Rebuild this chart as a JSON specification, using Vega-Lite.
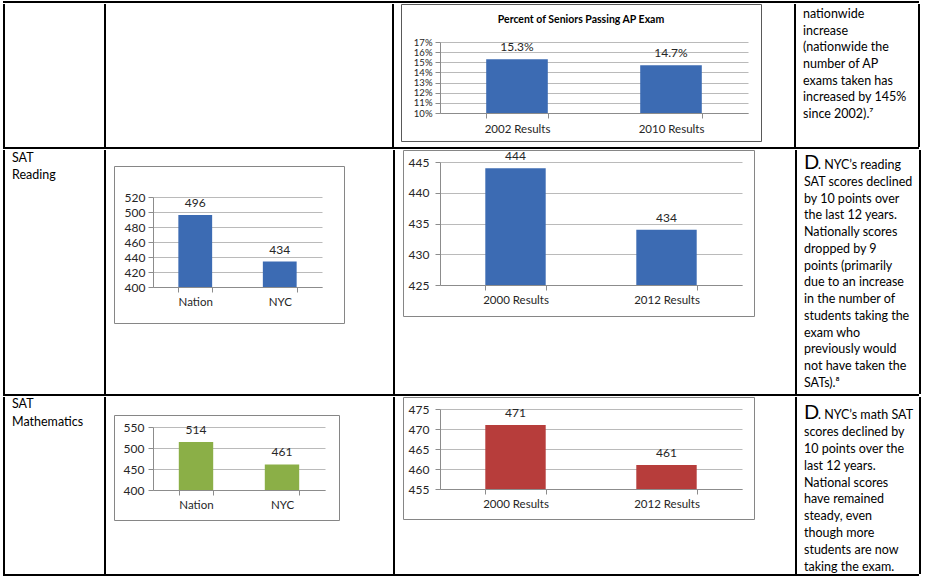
{
  "$schema": "https://vega.github.io/schema/vega-lite/v6.json",
  "background": "white",
  "padding": {"left": 3, "top": 1, "right": 0, "bottom": 0},
  "spacing": 0,
  "config": {
    "font": "Lato",
    "view": {"fill": "white", "stroke": null},
    "axis": {"domainColor": "#8C8C8C", "tickColor": "#8C8C8C", "gridColor": "#BABABA", "labelColor": "#262626", "labelFontSize": 12, "tickSize": 5, "labelOverlap": false}
  },
  "vconcat": [
    {"width": 916, "height": 2, "view": {"fill": "black", "stroke": null}, "data": {"values": []}, "mark": "point"},
    {
      "spacing": 0,
      "hconcat": [
        {"width": 2, "height": 143, "view": {"fill": "black", "stroke": null}, "data": {"values": []}, "mark": "point"},
        {"width": 99, "height": 143, "view": {"fill": "white", "stroke": null}, "data": {"values": []}, "mark": "point"},
        {"width": 2, "height": 143, "view": {"fill": "black", "stroke": null}, "data": {"values": []}, "mark": "point"},
        {"width": 286, "height": 143, "view": {"fill": "white", "stroke": null}, "data": {"values": []}, "mark": "point"},
        {"width": 2, "height": 143, "view": {"fill": "black", "stroke": null}, "data": {"values": []}, "mark": "point"},
        {
          "spacing": 0,
          "hconcat": [
            {"width": 6, "height": 143, "view": {"fill": "white", "stroke": null}, "data": {"values": []}, "mark": "point"},
            {
              "spacing": 0,
              "vconcat": [
                {
                  "width": 360, "height": 137,
                  "view": {"stroke": "#595959", "fill": "white"},
                  "title": {"text": "Percent of  Seniors Passing AP Exam", "fontSize": 10.5, "fontWeight": "bold", "offset": -21, "anchor": "middle", "frame": "group", "color": "black"},
                  "data": {"values": [{"cat": "2002 Results", "v": 0.153}, {"cat": "2010 Results", "v": 0.147}]},
                  "encoding": {
                    "x": {"field": "cat", "type": "nominal", "sort": null, "title": null,
                      "scale": {"range": [39, 347], "paddingInner": 0.6, "paddingOuter": 0.3},
                      "axis": {"offset": -28, "labelAngle": 0, "labelPadding": 5, "tickBand": "extent", "labelFontSize": 11.5}},
                    "y": {"field": "v", "type": "quantitative", "title": null,
                      "scale": {"domain": [0.1, 0.17], "range": [109, 38], "nice": false, "zero": false},
                      "axis": {"offset": -39, "values": [0.1, 0.11, 0.12, 0.13, 0.14, 0.15, 0.16, 0.17], "format": ".0%", "labelPadding": 3, "grid": true, "labelFontSize": 9.5}}
                  },
                  "layer": [
                    {"mark": {"type": "bar", "color": "#3C6BB3"}, "encoding": {"y2": {"datum": 0.1}}},
                    {"mark": {"type": "text", "baseline": "alphabetic", "dy": -8, "fontSize": 12, "color": "#262626"}, "encoding": {"text": {"field": "v", "format": ".1%"}}}
                  ]
                },
                {"width": 362, "height": 4, "view": {"fill": "white", "stroke": null}, "data": {"values": []}, "mark": "point"}
              ]
            },
            {"width": 31, "height": 143, "view": {"fill": "white", "stroke": null}, "data": {"values": []}, "mark": "point"}
          ]
        },
        {"width": 2, "height": 143, "view": {"fill": "black", "stroke": null}, "data": {"values": []}, "mark": "point"},
        {
          "width": 122, "height": 143,
          "data": {"values": [
            {"col": "c", "line": 1, "text": "nationwide"},
            {"col": "c", "line": 2, "text": "increase"},
            {"col": "c", "line": 3, "text": "(nationwide the"},
            {"col": "c", "line": 4, "text": "number of AP"},
            {"col": "c", "line": 5, "text": "exams taken has"},
            {"col": "c", "line": 6, "text": "increased by 145%"},
            {"col": "c", "line": 7, "text": "since 2002).⁷"}
          ]},
          "mark": {"type": "text", "align": "left", "baseline": "alphabetic", "dx": 7, "fontSize": 12.5, "color": "black"},
          "encoding": {
            "x": {"field": "col", "type": "nominal", "axis": null, "scale": {"type": "point", "padding": 0, "align": 0}},
            "y": {"field": "line", "type": "quantitative", "axis": null, "scale": {"domain": [1, 7], "range": [14, 114]}},
            "text": {"field": "text"}
          }
        },
        {"width": 2, "height": 143, "view": {"fill": "black", "stroke": null}, "data": {"values": []}, "mark": "point"}
      ]
    },
    {"width": 916, "height": 2, "view": {"fill": "black", "stroke": null}, "data": {"values": []}, "mark": "point"},
    {
      "spacing": 0,
      "hconcat": [
        {"width": 2, "height": 244, "view": {"fill": "black", "stroke": null}, "data": {"values": []}, "mark": "point"},
        {
          "width": 99, "height": 244,
          "data": {"values": [{"col": "c", "line": 1, "text": "SAT"}, {"col": "c", "line": 2, "text": "Reading"}]},
          "mark": {"type": "text", "align": "left", "baseline": "alphabetic", "dx": 7, "fontSize": 12.5, "color": "black"},
          "encoding": {
            "x": {"field": "col", "type": "nominal", "axis": null, "scale": {"type": "point", "padding": 0, "align": 0}},
            "y": {"field": "line", "type": "quantitative", "axis": null, "scale": {"domain": [1, 2], "range": [12, 29]}},
            "text": {"field": "text"}
          }
        },
        {"width": 2, "height": 244, "view": {"fill": "black", "stroke": null}, "data": {"values": []}, "mark": "point"},
        {
          "spacing": 0,
          "hconcat": [
            {"width": 7, "height": 244, "view": {"fill": "white", "stroke": null}, "data": {"values": []}, "mark": "point"},
            {
              "spacing": 0,
              "vconcat": [
                {"width": 232, "height": 15, "view": {"fill": "white", "stroke": null}, "data": {"values": []}, "mark": "point"},
                {
                  "width": 230, "height": 157,
                  "view": {"stroke": "#868686", "fill": "white"},
                  "data": {"values": [{"cat": "Nation", "v": 496}, {"cat": "NYC", "v": 434}]},
                  "encoding": {
                    "x": {"field": "cat", "type": "nominal", "sort": null, "title": null,
                      "scale": {"range": [39, 208], "paddingInner": 0.6, "paddingOuter": 0.3},
                      "axis": {"offset": -36, "labelAngle": 0, "labelPadding": 4, "tickBand": "extent", "labelFontSize": 11.5}},
                    "y": {"field": "v", "type": "quantitative", "title": null,
                      "scale": {"domain": [400, 520], "range": [121, 31], "nice": false, "zero": false},
                      "axis": {"offset": -39, "values": [400, 420, 440, 460, 480, 500, 520], "labelPadding": 3, "grid": true}}
                  },
                  "layer": [
                    {"mark": {"type": "bar", "color": "#3C6BB3"}, "encoding": {"y2": {"datum": 400}}},
                    {"mark": {"type": "text", "baseline": "alphabetic", "dy": -8, "fontSize": 12, "color": "#262626"}, "encoding": {"text": {"field": "v"}}}
                  ]
                },
                {"width": 232, "height": 70, "view": {"fill": "white", "stroke": null}, "data": {"values": []}, "mark": "point"}
              ]
            },
            {"width": 47, "height": 244, "view": {"fill": "white", "stroke": null}, "data": {"values": []}, "mark": "point"}
          ]
        },
        {"width": 2, "height": 244, "view": {"fill": "black", "stroke": null}, "data": {"values": []}, "mark": "point"},
        {
          "spacing": 0,
          "hconcat": [
            {"width": 7, "height": 244, "view": {"fill": "white", "stroke": null}, "data": {"values": []}, "mark": "point"},
            {
              "spacing": 0,
              "vconcat": [
                {
                  "width": 351, "height": 166,
                  "view": {"stroke": "#868686", "fill": "white"},
                  "data": {"values": [{"cat": "2000 Results", "v": 444}, {"cat": "2012 Results", "v": 434}]},
                  "encoding": {
                    "x": {"field": "cat", "type": "nominal", "sort": null, "title": null,
                      "scale": {"range": [37, 339], "paddingInner": 0.6, "paddingOuter": 0.3},
                      "axis": {"offset": -31, "labelAngle": 0, "labelPadding": 4, "tickBand": "extent", "labelFontSize": 11.5}},
                    "y": {"field": "v", "type": "quantitative", "title": null,
                      "scale": {"domain": [425, 445], "range": [135, 12], "nice": false, "zero": false},
                      "axis": {"offset": -37, "values": [425, 430, 435, 440, 445], "labelPadding": 6, "grid": true}}
                  },
                  "layer": [
                    {"mark": {"type": "bar", "color": "#3C6BB3"}, "encoding": {"y2": {"datum": 425}}},
                    {"mark": {"type": "text", "baseline": "alphabetic", "dy": -8, "fontSize": 12, "color": "#262626"}, "encoding": {"text": {"field": "v"}}}
                  ]
                },
                {"width": 353, "height": 76, "view": {"fill": "white", "stroke": null}, "data": {"values": []}, "mark": "point"}
              ]
            },
            {"width": 39, "height": 244, "view": {"fill": "white", "stroke": null}, "data": {"values": []}, "mark": "point"}
          ]
        },
        {"width": 2, "height": 244, "view": {"fill": "black", "stroke": null}, "data": {"values": []}, "mark": "point"},
        {
          "width": 122, "height": 244,
          "data": {"values": [
            {"col": "c", "line": 1, "part": "D", "text": "D"},
            {"col": "c", "line": 1, "part": "lead", "text": ". NYC’s reading"},
            {"col": "c", "line": 2, "part": "body", "text": "SAT scores declined"},
            {"col": "c", "line": 3, "part": "body", "text": "by 10 points over"},
            {"col": "c", "line": 4, "part": "body", "text": "the last 12 years."},
            {"col": "c", "line": 5, "part": "body", "text": "Nationally scores"},
            {"col": "c", "line": 6, "part": "body", "text": "dropped by 9"},
            {"col": "c", "line": 7, "part": "body", "text": "points (primarily"},
            {"col": "c", "line": 8, "part": "body", "text": "due to an increase"},
            {"col": "c", "line": 9, "part": "body", "text": "in the number of"},
            {"col": "c", "line": 10, "part": "body", "text": "students taking the"},
            {"col": "c", "line": 11, "part": "body", "text": "exam who"},
            {"col": "c", "line": 12, "part": "body", "text": "previously would"},
            {"col": "c", "line": 13, "part": "body", "text": "not have taken the"},
            {"col": "c", "line": 14, "part": "body", "text": "SATs).⁸"}
          ]},
          "encoding": {
            "x": {"field": "col", "type": "nominal", "axis": null, "scale": {"type": "point", "padding": 0, "align": 0}},
            "y": {"field": "line", "type": "quantitative", "axis": null, "scale": {"domain": [1, 14], "range": [19, 237]}},
            "text": {"field": "text"}
          },
          "layer": [
            {"transform": [{"filter": "datum.part === 'D'"}], "mark": {"type": "text", "align": "left", "baseline": "alphabetic", "dx": 7, "fontSize": 20, "color": "black"}},
            {"transform": [{"filter": "datum.part === 'lead'"}], "mark": {"type": "text", "align": "left", "baseline": "alphabetic", "dx": 21, "fontSize": 12.5, "color": "black"}},
            {"transform": [{"filter": "datum.part === 'body'"}], "mark": {"type": "text", "align": "left", "baseline": "alphabetic", "dx": 7, "fontSize": 12.5, "color": "black"}}
          ]
        },
        {"width": 2, "height": 244, "view": {"fill": "black", "stroke": null}, "data": {"values": []}, "mark": "point"}
      ]
    },
    {"width": 916, "height": 2, "view": {"fill": "black", "stroke": null}, "data": {"values": []}, "mark": "point"},
    {
      "spacing": 0,
      "hconcat": [
        {"width": 2, "height": 177, "view": {"fill": "black", "stroke": null}, "data": {"values": []}, "mark": "point"},
        {
          "width": 99, "height": 177,
          "data": {"values": [{"col": "c", "line": 1, "text": "SAT"}, {"col": "c", "line": 2, "text": "Mathematics"}]},
          "mark": {"type": "text", "align": "left", "baseline": "alphabetic", "dx": 7, "fontSize": 12.5, "color": "black"},
          "encoding": {
            "x": {"field": "col", "type": "nominal", "axis": null, "scale": {"type": "point", "padding": 0, "align": 0}},
            "y": {"field": "line", "type": "quantitative", "axis": null, "scale": {"domain": [1, 2], "range": [11, 29]}},
            "text": {"field": "text"}
          }
        },
        {"width": 2, "height": 177, "view": {"fill": "black", "stroke": null}, "data": {"values": []}, "mark": "point"},
        {
          "spacing": 0,
          "hconcat": [
            {"width": 7, "height": 177, "view": {"fill": "white", "stroke": null}, "data": {"values": []}, "mark": "point"},
            {
              "spacing": 0,
              "vconcat": [
                {"width": 227, "height": 17, "view": {"fill": "white", "stroke": null}, "data": {"values": []}, "mark": "point"},
                {
                  "width": 225, "height": 105,
                  "view": {"stroke": "#868686", "fill": "white"},
                  "data": {"values": [{"cat": "Nation", "v": 514}, {"cat": "NYC", "v": 461}]},
                  "encoding": {
                    "x": {"field": "cat", "type": "nominal", "sort": null, "title": null,
                      "scale": {"range": [39, 211], "paddingInner": 0.6, "paddingOuter": 0.3},
                      "axis": {"offset": -30, "labelAngle": 0, "labelPadding": 4, "tickBand": "extent", "labelFontSize": 11.5}},
                    "y": {"field": "v", "type": "quantitative", "title": null,
                      "scale": {"domain": [400, 550], "range": [75, 12], "nice": false, "zero": false},
                      "axis": {"offset": -39, "values": [400, 450, 500, 550], "labelPadding": 4, "grid": true}}
                  },
                  "layer": [
                    {"mark": {"type": "bar", "color": "#8BAF47"}, "encoding": {"y2": {"datum": 400}}},
                    {"mark": {"type": "text", "baseline": "alphabetic", "dy": -8, "fontSize": 12, "color": "#262626"}, "encoding": {"text": {"field": "v"}}}
                  ]
                },
                {"width": 227, "height": 53, "view": {"fill": "white", "stroke": null}, "data": {"values": []}, "mark": "point"}
              ]
            },
            {"width": 52, "height": 177, "view": {"fill": "white", "stroke": null}, "data": {"values": []}, "mark": "point"}
          ]
        },
        {"width": 2, "height": 177, "view": {"fill": "black", "stroke": null}, "data": {"values": []}, "mark": "point"},
        {
          "spacing": 0,
          "hconcat": [
            {"width": 7, "height": 177, "view": {"fill": "white", "stroke": null}, "data": {"values": []}, "mark": "point"},
            {
              "spacing": 0,
              "vconcat": [
                {
                  "width": 351, "height": 122,
                  "view": {"stroke": "#868686", "fill": "white"},
                  "data": {"values": [{"cat": "2000 Results", "v": 471}, {"cat": "2012 Results", "v": 461}]},
                  "encoding": {
                    "x": {"field": "cat", "type": "nominal", "sort": null, "title": null,
                      "scale": {"range": [37, 339], "paddingInner": 0.6, "paddingOuter": 0.3},
                      "axis": {"offset": -30, "labelAngle": 0, "labelPadding": 4, "tickBand": "extent", "labelFontSize": 11.5}},
                    "y": {"field": "v", "type": "quantitative", "title": null,
                      "scale": {"domain": [455, 475], "range": [92, 12], "nice": false, "zero": false},
                      "axis": {"offset": -37, "values": [455, 460, 465, 470, 475], "labelPadding": 6, "grid": true}}
                  },
                  "layer": [
                    {"mark": {"type": "bar", "color": "#B73D3B"}, "encoding": {"y2": {"datum": 455}}},
                    {"mark": {"type": "text", "baseline": "alphabetic", "dy": -8, "fontSize": 12, "color": "#262626"}, "encoding": {"text": {"field": "v"}}}
                  ]
                },
                {"width": 353, "height": 53, "view": {"fill": "white", "stroke": null}, "data": {"values": []}, "mark": "point"}
              ]
            },
            {"width": 39, "height": 177, "view": {"fill": "white", "stroke": null}, "data": {"values": []}, "mark": "point"}
          ]
        },
        {"width": 2, "height": 177, "view": {"fill": "black", "stroke": null}, "data": {"values": []}, "mark": "point"},
        {
          "width": 122, "height": 177,
          "data": {"values": [
            {"col": "c", "line": 1, "part": "D", "text": "D"},
            {"col": "c", "line": 1, "part": "lead", "text": ". NYC’s math SAT"},
            {"col": "c", "line": 2, "part": "body", "text": "scores declined by"},
            {"col": "c", "line": 3, "part": "body", "text": "10 points over the"},
            {"col": "c", "line": 4, "part": "body", "text": "last 12 years."},
            {"col": "c", "line": 5, "part": "body", "text": "National scores"},
            {"col": "c", "line": 6, "part": "body", "text": "have remained"},
            {"col": "c", "line": 7, "part": "body", "text": "steady, even"},
            {"col": "c", "line": 8, "part": "body", "text": "though more"},
            {"col": "c", "line": 9, "part": "body", "text": "students are now"},
            {"col": "c", "line": 10, "part": "body", "text": "taking the exam."}
          ]},
          "encoding": {
            "x": {"field": "col", "type": "nominal", "axis": null, "scale": {"type": "point", "padding": 0, "align": 0}},
            "y": {"field": "line", "type": "quantitative", "axis": null, "scale": {"domain": [1, 10], "range": [22, 174]}},
            "text": {"field": "text"}
          },
          "layer": [
            {"transform": [{"filter": "datum.part === 'D'"}], "mark": {"type": "text", "align": "left", "baseline": "alphabetic", "dx": 7, "fontSize": 20, "color": "black"}},
            {"transform": [{"filter": "datum.part === 'lead'"}], "mark": {"type": "text", "align": "left", "baseline": "alphabetic", "dx": 21, "fontSize": 12.5, "color": "black"}},
            {"transform": [{"filter": "datum.part === 'body'"}], "mark": {"type": "text", "align": "left", "baseline": "alphabetic", "dx": 7, "fontSize": 12.5, "color": "black"}}
          ]
        },
        {"width": 2, "height": 177, "view": {"fill": "black", "stroke": null}, "data": {"values": []}, "mark": "point"}
      ]
    },
    {"width": 916, "height": 2, "view": {"fill": "black", "stroke": null}, "data": {"values": []}, "mark": "point"}
  ]
}
